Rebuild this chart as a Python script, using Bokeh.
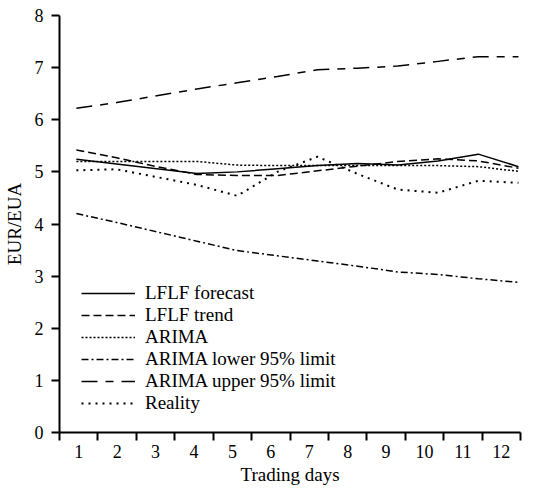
import json
import numpy as np
from bokeh.plotting import figure
from bokeh.models import Range1d, FixedTicker, CustomJSTickFormatter, Legend, LegendItem
from bokeh.embed import file_html
from bokeh.resources import INLINE

# ---- data ----
days = [1, 2, 3, 4, 5, 6, 7, 8, 9, 10, 11, 12]
day_labels = ["1", "2", "3", "4", "5", "6", "7", "8", "9", "10", "11", "12"]
lflf_forecast = [5.24, 5.15, 5.06, 4.97, 5.00, 5.06, 5.12, 5.16, 5.13, 5.21, 5.34, 5.10]
lflf_trend = [5.42, 5.27, 5.10, 4.95, 4.93, 4.93, 5.02, 5.11, 5.20, 5.25, 5.21, 5.07]
arima = [5.20, 5.20, 5.20, 5.20, 5.13, 5.12, 5.12, 5.12, 5.12, 5.12, 5.10, 5.01]
arima_lower = [4.20, 4.03, 3.85, 3.67, 3.49, 3.39, 3.29, 3.19, 3.08, 3.03, 2.95, 2.88]
arima_upper = [6.22, 6.33, 6.46, 6.59, 6.71, 6.83, 6.96, 6.99, 7.03, 7.12, 7.21, 7.21]
reality = [5.03, 5.05, 4.90, 4.75, 4.54, 5.00, 5.29, 4.96, 4.66, 4.60, 4.83, 4.79]
y_ticks = [0, 1, 2, 3, 4, 5, 6, 7, 8]

FONT = "Liberation Serif"
x0, x1 = 0.58, 12.05

p = figure(frame_width=461, frame_height=417,
           min_border_left=53, min_border_right=8, min_border_top=15, min_border_bottom=44,
           x_range=Range1d(x0, x1), y_range=Range1d(0, 8),
           output_backend="svg", toolbar_location=None,
           background_fill_color="white", border_fill_color="white")
p.outline_line_color = None
p.grid.visible = False

series = [
    ("LFLF forecast", lflf_forecast, None, 1.5),
    ("LFLF trend", lflf_trend, "8 4", 1.5),
    ("ARIMA", arima, "2 2", 1.5),
    ("ARIMA lower 95% limit", arima_lower, "7 3 2 3", 1.5),
    ("ARIMA upper 95% limit", arima_upper, "16 8 8 8", 1.5),
    ("Reality", reality, "2 5", 2),
]
items = []
for name, vals, dash, w in series:
    kw = dict(line_color="black", line_width=w)
    if dash:
        kw["line_dash"] = dash
    r = p.line(days, vals, **kw)
    items.append(LegendItem(label=name, renderers=[r]))

legend = Legend(items=items, location=(22, 18), padding=0, margin=0, spacing=0,
                glyph_width=54, glyph_height=22, label_height=22, label_standoff=10,
                label_text_font=FONT, label_text_font_size="19px", label_text_color="black",
                border_line_alpha=0, background_fill_alpha=0)
p.add_layout(legend)

# x axis: boundary ticks (minor) and centred day labels (major)
bounds = np.linspace(x0, x1, len(days) + 1)
mids = (bounds[:-1] + bounds[1:]) / 2
xa = p.xaxis[0]
xa.ticker = FixedTicker(ticks=list(mids), minor_ticks=list(bounds))
xa.formatter = CustomJSTickFormatter(code="return %s[index];" % json.dumps(day_labels))
xa.major_tick_out = 0
xa.major_tick_in = 0
xa.minor_tick_out = 8
xa.minor_tick_in = 0
xa.minor_tick_line_width = 2
xa.minor_tick_line_color = "black"
xa.major_label_standoff = 4
xa.axis_label = "Trading days"
xa.axis_label_standoff = 3

ya = p.yaxis[0]
ya.ticker = FixedTicker(ticks=y_ticks)
ya.major_tick_out = 8
ya.major_tick_in = 0
ya.minor_tick_out = 0
ya.minor_tick_in = 0
ya.major_tick_line_width = 2
ya.major_label_standoff = 8
ya.axis_label = "EUR/EUA"
ya.axis_label_standoff = 7

for ax in (xa, ya):
    ax.axis_line_width = 2
    ax.axis_line_color = "black"
    ax.major_tick_line_color = "black"
    ax.major_label_text_font = FONT
    ax.major_label_text_font_size = "18px"
    ax.major_label_text_color = "black"
    ax.axis_label_text_font = FONT
    ax.axis_label_text_font_size = "19px"
    ax.axis_label_text_font_style = "normal"
    ax.axis_label_text_color = "black"

open("out.html", "w").write(file_html(p, INLINE))
